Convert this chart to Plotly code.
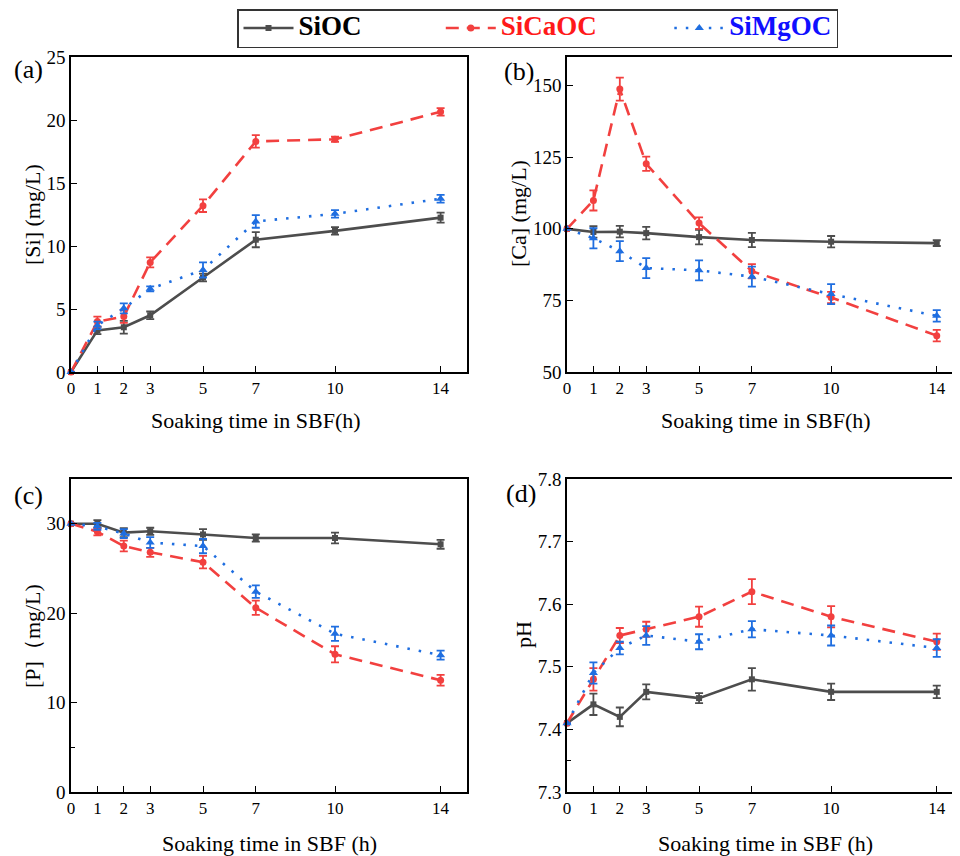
import plotly.graph_objects as go

# page body has an 8px default margin, so the figure is drawn 8px in from the window edge
OFF = 8
W, H = 960 - OFF, 856 - OFF

# ---------------- data ----------------
time_h = [0, 1, 2, 3, 5, 7, 10, 14]
x_ticks = [0, 1, 2, 3, 5, 7, 10, 14]

# (a) [Si] mg/L
si_SiOC = [0, 3.3, 3.55, 4.5, 7.5, 10.5, 11.2, 12.25]
si_SiOC_err = [0, 0.3, 0.5, 0.3, 0.3, 0.6, 0.3, 0.4]
si_SiCaOC = [0, 4.0, 4.4, 8.7, 13.2, 18.3, 18.47, 20.65]
si_SiCaOC_err = [0, 0.4, 0.5, 0.4, 0.5, 0.5, 0.2, 0.3]
si_SiMgOC = [0, 3.7, 5.05, 6.6, 8.1, 11.95, 12.55, 13.75]
si_SiMgOC_err = [0, 0.3, 0.4, 0.2, 0.6, 0.5, 0.3, 0.3]

# (b) [Ca] mg/L
ca_SiOC = [100, 98.9, 99.0, 98.5, 97.1, 96.1, 95.5, 95.0]
ca_SiOC_err = [0, 2.0, 2.0, 2.2, 2.5, 2.5, 2.0, 1.0]
ca_SiCaOC = [100, 109.9, 148.8, 122.7, 102.0, 85.2, 76.0, 62.7]
ca_SiCaOC_err = [0, 3.5, 4.0, 2.5, 2.0, 2.5, 2.0, 2.0]
ca_SiMgOC = [100, 96.7, 92.2, 86.3, 85.5, 83.3, 77.2, 69.6]
ca_SiMgOC_err = [0, 3.5, 3.5, 3.5, 3.5, 3.5, 3.5, 2.0]

# (c) [P] mg/L
p_SiOC = [30.0, 30.0, 29.0, 29.15, 28.8, 28.4, 28.4, 27.7]
p_SiOC_err = [0, 0.4, 0.5, 0.4, 0.6, 0.4, 0.6, 0.5]
p_SiCaOC = [30.0, 29.1, 27.5, 26.8, 25.7, 20.6, 15.4, 12.5]
p_SiCaOC_err = [0, 0.4, 0.6, 0.5, 0.7, 0.8, 0.9, 0.6]
p_SiMgOC = [30.0, 29.7, 28.9, 27.9, 27.5, 22.4, 17.7, 15.3]
p_SiMgOC_err = [0, 0.4, 0.5, 0.6, 0.8, 0.7, 0.8, 0.5]

# (d) pH
ph_SiOC = [7.41, 7.44, 7.42, 7.46, 7.45, 7.48, 7.46, 7.46]
ph_SiOC_err = [0, 0.017, 0.015, 0.012, 0.008, 0.018, 0.013, 0.01]
ph_SiCaOC = [7.41, 7.48, 7.55, 7.56, 7.58, 7.62, 7.58, 7.54]
ph_SiCaOC_err = [0, 0.018, 0.012, 0.012, 0.016, 0.02, 0.017, 0.013]
ph_SiMgOC = [7.41, 7.49, 7.53, 7.55, 7.54, 7.56, 7.55, 7.53]
ph_SiMgOC_err = [0, 0.017, 0.01, 0.015, 0.012, 0.013, 0.016, 0.014]

series_names = ["SiOC", "SiCaOC", "SiMgOC"]
legend_text_colors = ["#000000", "#ff1a1a", "#1010ff"]
legend_pad = [11, 10, 0]   # trailing spaces after each legend entry
panel_labels = ["(a)", "(b)", "(c)", "(d)"]
y_titles = ["[Si] (mg/L)", "[Ca] (mg/L)", "[P]（mg/L)", "pH"]
x_titles = ["Soaking time in SBF(h)", "Soaking time in SBF(h)",
            "Soaking time in SBF (h)", "Soaking time in SBF (h)"]

# ---------------- style ----------------
FONT = "Liberation Serif, Times New Roman, serif"
colors = ["#4d4d4d", "#f2403f", "#1f6ee0"]
dashes = ["solid", "13px,8px", "2.5px,9px"]
symbols = ["square", "circle", "triangle-up"]
msizes = [6, 7, 8]

panels = [
    (si_SiOC, si_SiOC_err, si_SiCaOC, si_SiCaOC_err, si_SiMgOC, si_SiMgOC_err),
    (ca_SiOC, ca_SiOC_err, ca_SiCaOC, ca_SiCaOC_err, ca_SiMgOC, ca_SiMgOC_err),
    (p_SiOC, p_SiOC_err, p_SiCaOC, p_SiCaOC_err, p_SiMgOC, p_SiMgOC_err),
    (ph_SiOC, ph_SiOC_err, ph_SiCaOC, ph_SiCaOC_err, ph_SiMgOC, ph_SiMgOC_err),
]

def px_x(v):
    return (v - OFF) / W

def px_y(v):
    return 1 - (v - OFF) / H

domains_x = [(px_x(71), px_x(467)), (px_x(567), 1.0),
             (px_x(71), px_x(467)), (px_x(567), 1.0)]
domains_y = [(px_y(372), px_y(57)), (px_y(372), px_y(57)),
             (px_y(792), px_y(479)), (px_y(792), px_y(479))]
x_ranges = [[0, 15], [0, 14.88], [0, 15], [0, 14.88]]
y_ranges = [[0, 25], [50, 160], [0, 35], [7.3, 7.8]]
y_dticks = [5, 25, 10, 0.1]
y_tick0 = [0, 50, 0, 7.3]

fig = go.Figure()

for p, data in enumerate(panels):
    xa = "x" if p == 0 else f"x{p+1}"
    ya = "y" if p == 0 else f"y{p+1}"
    for s in range(3):
        yv = data[2 * s]
        ev = data[2 * s + 1]
        pad = "\u00a0" * legend_pad[s]
        fig.add_trace(go.Scatter(
            x=time_h, y=yv, xaxis=xa, yaxis=ya,
            mode="lines+markers",
            name=(f'<span style="font-size:27px"><b><span style="color:{legend_text_colors[s]}">'
                  f'{series_names[s]}</span></b>{pad}</span>'),
            showlegend=(p == 0),
            line=dict(color=colors[s], width=2.6, dash=dashes[s]),
            marker=dict(symbol=symbols[s], size=msizes[s], color=colors[s],
                        line=dict(width=0)),
            error_y=dict(type="data", array=ev, visible=True, color=colors[s],
                         thickness=1.8, width=4),
            cliponaxis=False,
        ))

layout = dict(
    width=W, height=H,
    margin=dict(l=0, r=0, t=0, b=0, autoexpand=False),
    plot_bgcolor="white", paper_bgcolor="white",
    font=dict(family=FONT, size=17, color="black"),
    showlegend=True,
    legend=dict(
        orientation="h", x=px_x(237), y=px_y(9), xanchor="left", yanchor="top",
        bordercolor="#333333", borderwidth=1.5, bgcolor="white",
        font=dict(family=FONT, size=17), itemwidth=50,
        tracegroupgap=0,
    ),
)

for p in range(4):
    kx = "xaxis" if p == 0 else f"xaxis{p+1}"
    ky = "yaxis" if p == 0 else f"yaxis{p+1}"
    ya = "y" if p == 0 else f"y{p+1}"
    xa = "x" if p == 0 else f"x{p+1}"
    right_panel = p in (1, 3)
    layout[kx] = dict(
        domain=list(domains_x[p]), anchor=ya, range=x_ranges[p],
        tickmode="array", tickvals=x_ticks, ticktext=[str(t) for t in x_ticks],
        ticks="inside", ticklen=6, tickwidth=1.2, tickcolor="black",
        showline=True, linecolor="black", linewidth=1.5, mirror=True,
        showgrid=False, zeroline=False,
        tickfont=dict(family=FONT, size=17),
    )
    yax = dict(
        domain=list(domains_y[p]), anchor=xa, range=y_ranges[p],
        tickmode="linear", tick0=y_tick0[p], dtick=y_dticks[p],
        ticks="inside", ticklen=6, tickwidth=1.2, tickcolor="black",
        showline=True, linecolor="black", linewidth=1.5,
        mirror=(not right_panel),
        showgrid=False, zeroline=False,
        tickfont=dict(family=FONT, size=19),
    )
    if p == 2:
        yax["minor"] = dict(tickvals=[5], ticks="inside", ticklen=4, tickcolor="black")
    if p == 3:
        yax["minor"] = dict(tickvals=[7.35], ticks="inside", ticklen=4, tickcolor="black")
    layout[ky] = yax

fig.update_layout(**layout)

# panel labels
label_pos = [(28, 70), (519, 72), (28, 495), (521, 493)]
for lab, (lx, ly) in zip(panel_labels, label_pos):
    fig.add_annotation(text=lab, x=px_x(lx), y=px_y(ly), xref="paper", yref="paper",
                       showarrow=False, xanchor="center", yanchor="middle",
                       font=dict(family=FONT, size=26, color="black"))

# x titles
xt_pos = [(256, 420), (766, 420), (269, 843), (765, 843)]
for t, (tx, ty) in zip(x_titles, xt_pos):
    fig.add_annotation(text=t, x=px_x(tx), y=px_y(ty), xref="paper", yref="paper",
                       showarrow=False, xanchor="center", yanchor="middle",
                       font=dict(family=FONT, size=22, color="black"))

# y titles
yt_pos = [(32, 215), (518, 214), (32, 636), (523, 635)]
for t, (tx, ty) in zip(y_titles, yt_pos):
    fig.add_annotation(text=t, x=px_x(tx), y=px_y(ty), xref="paper", yref="paper",
                       showarrow=False, xanchor="center", yanchor="middle",
                       textangle=-90,
                       font=dict(family=FONT, size=22, color="black"))

fig.write_html("out.html")
